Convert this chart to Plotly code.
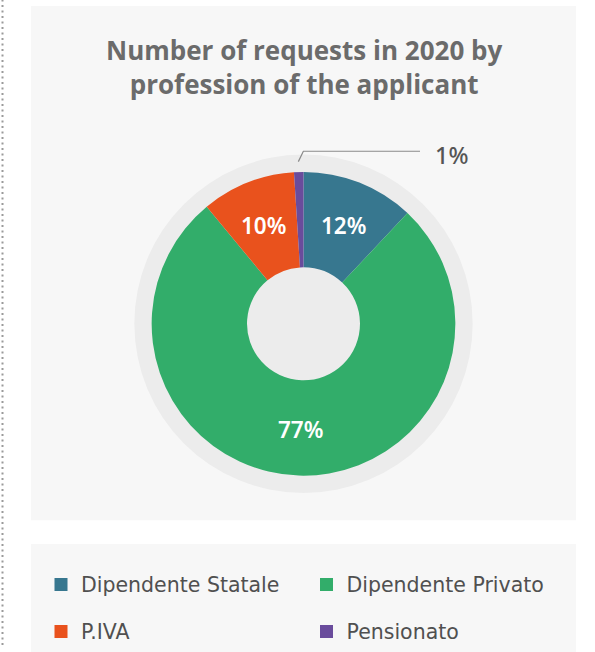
import math
import plotly.graph_objects as go

# ---- data ----
labels = ["Dipendente Statale", "Dipendente Privato", "P.IVA", "Pensionato"]
values = [12, 77, 10, 1]
colors = ["#37778f", "#32ad6a", "#e9521d", "#6a4c9c"]
title_lines = ["Number of requests in 2020 by", "profession of the applicant"]

# ---- geometry helpers (pixel -> paper) ----
W, H = 595, 652
def px(x):
    return x / W
def py(y):
    return 1 - y / H

cx, cy = 303.5, 327.3
r_pie = 153.5
r_ring = 171
hole = 0.372

fig = go.Figure()

# background ring (grey disc behind the donut)
fig.add_trace(go.Pie(
    values=[1], labels=["ring"], marker=dict(colors=["#ececec"], line=dict(width=0)),
    textinfo="none", hoverinfo="skip", showlegend=False, sort=False,
    domain=dict(x=[px(cx - r_ring), px(cx + r_ring)], y=[py(cy + r_ring), py(cy - r_ring)]),
))

fig.add_trace(go.Pie(
    labels=labels, values=values, sort=False, direction="clockwise", rotation=0,
    hole=hole, marker=dict(colors=colors, line=dict(width=0)),
    textinfo="none", showlegend=False, hoverinfo="label+percent",
    domain=dict(x=[px(cx - r_pie), px(cx + r_pie)], y=[py(cy + r_pie), py(cy - r_pie)]),
))

# legend entries (two rows)
for i, (lab, col) in enumerate(zip(labels, colors)):
    fig.add_trace(go.Scatter(
        x=[None], y=[None], mode="markers", name=lab,
        marker=dict(symbol="square", size=13, color=col),
        legend="legend" if i < 2 else "legend2", hoverinfo="skip",
    ))

# slice labels: inside for big slices, outside with leader line for small ones
total = sum(values)
r_mid = (r_pie * hole + r_pie) / 2 + 2
shapes = []
annotations = []
cum = 0
for i, v in enumerate(values):
    frac = v / total
    theta = 2 * math.pi * (cum + v / 2) / total
    if frac >= 0.05:
        tx = cx + r_mid * math.sin(theta)
        ty = cy - r_mid * math.cos(theta)
        annotations.append(dict(x=px(tx), y=py(ty), xref="paper", yref="paper",
                                xanchor="center", yanchor="middle", showarrow=False,
                                text=f"{frac:.0%}",
                                font=dict(family="Noto Sans", size=22.5, color="white", weight=600)))
    else:
        sx = cx + 164 * math.sin(theta)
        sy = cy - 164 * math.cos(theta)
        ex, ey = sx + 5, sy - 10.5
        shapes.append(dict(type="path", xref="paper", yref="paper",
                           path=f"M{px(sx)},{py(sy)} L{px(ex)},{py(ey)} L{px(420)},{py(ey)}",
                           line=dict(color="#8a8a8a", width=1.2)))
        annotations.append(dict(x=px(433), y=py(ey + 3.5), xref="paper", yref="paper",
                                xanchor="left", yanchor="middle", showarrow=False,
                                text=f"{frac:.0%}",
                                font=dict(family="Noto Sans", size=23.5, color="#555555", weight=500)))
    cum += v

# panels and dotted border
shapes = [
    dict(type="rect", xref="paper", yref="paper", layer="below",
         x0=px(31), x1=px(576), y0=py(660), y1=py(6),
         fillcolor="#f7f7f7", line=dict(width=0)),
    dict(type="rect", xref="paper", yref="paper", layer="below",
         x0=px(0), x1=px(595), y0=py(550), y1=py(526),
         fillcolor="white", line=dict(width=0)),
    dict(type="line", xref="paper", yref="paper", layer="below",
         x0=px(2.5), x1=px(2.5), y0=0, y1=1,
         line=dict(color="#9a9a9a", width=2, dash="2px,3.5px")),
] + shapes

annotations.append(dict(
    x=px(303.5), y=py(68), xref="paper", yref="paper",
    xanchor="center", yanchor="middle", showarrow=False, text="<br>".join(title_lines),
    font=dict(family="Open Sans", size=26, color="#6b6b6b", weight=700),
))

legend_common = dict(
    orientation="h", xanchor="left", yanchor="middle",
    entrywidth=220.5, entrywidthmode="pixels",
    font=dict(family="DejaVu Sans", size=20.5, color="#505050"),
    bgcolor="rgba(0,0,0,0)", borderwidth=0,
    itemclick=False, itemdoubleclick=False,
)

fig.update_layout(
    width=W, height=H, autosize=False, margin=dict(l=0, r=0, t=0, b=0),
    paper_bgcolor="white", plot_bgcolor="rgba(0,0,0,0)",
    xaxis=dict(visible=False), yaxis=dict(visible=False),
    shapes=shapes, annotations=annotations,
    legend=dict(x=px(41), y=py(591), **legend_common),
    legend2=dict(x=px(41), y=py(638.5), **legend_common),
    showlegend=True,
)

fig.write_html("out.html", config={"responsive": False})
